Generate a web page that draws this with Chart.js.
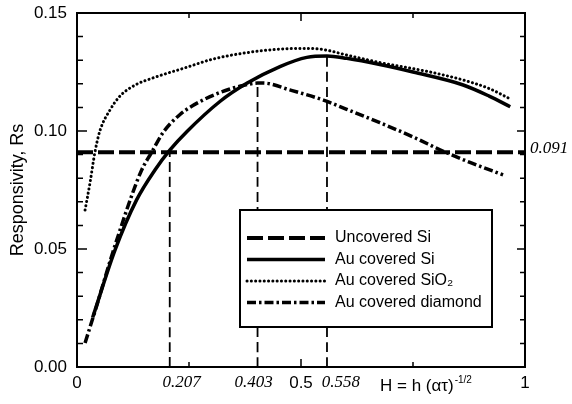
<!DOCTYPE html>
<html>
<head>
<meta charset="utf-8">
<script src="https://cdn.jsdelivr.net/npm/chart.js@4.4.0/dist/chart.umd.min.js"></script>
<style>
  html, body { margin: 0; padding: 0; background: #fff; }
  canvas { display: block; }
</style>
</head>
<body>
<canvas id="chart" width="572" height="404"></canvas>
<script>
// values
const seriesNames = ['Uncovered Si', 'Au covered Si', 'Au covered SiO\u2082', 'Au covered diamond'];

const uncoveredX = [0, 1];
const uncoveredY = [0.091, 0.091];

const auSiX = [0.035, 0.085, 0.133, 0.174, 0.2076, 0.245, 0.319, 0.379, 0.453, 0.513, 0.558, 0.602, 0.676, 0.75, 0.862, 0.92, 0.967];
const auSiY = [0.021, 0.0496, 0.0708, 0.0835, 0.092, 0.0997, 0.1125, 0.1202, 0.1273, 0.1312, 0.1318, 0.1308, 0.1282, 0.125, 0.1195, 0.1148, 0.1103];

const sio2X = [0.018, 0.029, 0.04, 0.051, 0.074, 0.096, 0.13, 0.17, 0.245, 0.304, 0.379, 0.453, 0.513, 0.55, 0.602, 0.676, 0.788, 0.862, 0.92, 0.967];
const sio2Y = [0.0665, 0.078, 0.091, 0.100, 0.109, 0.1148, 0.1195, 0.1225, 0.127, 0.1305, 0.1332, 0.1347, 0.135, 0.1345, 0.1322, 0.129, 0.125, 0.1216, 0.118, 0.1136];

const diamondX = [0.018, 0.044, 0.074, 0.096, 0.12, 0.1444, 0.1667, 0.1926, 0.23, 0.282, 0.3415, 0.371, 0.403, 0.416, 0.475, 0.55, 0.602, 0.676, 0.75, 0.82, 0.88, 0.951];
const diamondY = [0.0102, 0.026, 0.045, 0.058, 0.0715, 0.0835, 0.091, 0.0995, 0.107, 0.1132, 0.1178, 0.1193, 0.1203, 0.1203, 0.1174, 0.1131, 0.1092, 0.1035, 0.0975, 0.0912, 0.0865, 0.0814];

const markerX = [0.207, 0.403, 0.558];
const markerTop = [0.091, 0.1203, 0.1318];
const markerLabels = ['0.207', '0.403', '0.558'];
const levelLabel = '0.091';

const xTicks = [0, 0.5, 1];
const yTicks = [0, 0.05, 0.10, 0.15];

const pts = (xs, ys) => xs.map((v, i) => ({x: v, y: ys[i]}));

const curves = [
  {label: seriesNames[0], data: pts(uncoveredX, uncoveredY), borderWidth: 4, borderDash: [16, 5]},
  {label: seriesNames[1], data: pts(auSiX, auSiY), borderWidth: 3.5, borderDash: []},
  {label: seriesNames[2], data: pts(sio2X, sio2Y), borderWidth: 3, borderDash: [0.1, 4.2], borderCapStyle: 'round'},
  {label: seriesNames[3], data: pts(diamondX, diamondY), borderWidth: 3.5, borderDash: [9, 3, 2.5, 3]}
];

const markers = markerX.map((v, i) => ({
  label: 'marker' + i,
  data: [{x: v, y: 0}, {x: v, y: markerTop[i]}],
  borderWidth: 1.8,
  borderDash: [10, 5]
}));

const datasets = [...curves, ...markers].map(d => Object.assign({
  showLine: true,
  pointRadius: 0,
  borderColor: '#000',
  backgroundColor: '#000',
  cubicInterpolationMode: 'monotone',
  fill: false
}, d));

const SANS = '"Liberation Sans", Arial, sans-serif';

// frame, inward ticks, annotations and legend
const decorations = {
  id: 'decorations',
  afterDatasetsDraw(chart) {
    const {ctx, chartArea: a, scales: {x, y}} = chart;
    ctx.save();
    ctx.strokeStyle = '#000';
    ctx.fillStyle = '#000';
    ctx.setLineDash([]);
    ctx.lineWidth = 2;
    ctx.strokeRect(a.left, a.top, a.right - a.left, a.bottom - a.top);

    ctx.lineWidth = 1.5;
    ctx.beginPath();
    for (let i = 0; i <= 15; i++) {
      const py = y.getPixelForValue(i / 100);
      const major = i % 5 === 0;
      ctx.moveTo(a.left, py); ctx.lineTo(a.left + (major ? 10 : 6), py);
      ctx.moveTo(a.right, py); ctx.lineTo(a.right - (major ? 8 : 5), py);
    }
    [0.25, 0.5, 0.75].forEach(v => {
      const px = x.getPixelForValue(v);
      const len = v === 0.5 ? 8 : 5;
      ctx.moveTo(px, a.bottom); ctx.lineTo(px, a.bottom - len);
      ctx.moveTo(px, a.top); ctx.lineTo(px, a.top + len);
    });
    ctx.stroke();

    // italic annotations
    ctx.font = 'italic 17px "Liberation Serif", serif';
    ctx.textBaseline = 'middle';
    ctx.textAlign = 'center';
    const shift = [12, -4, 14];
    markerX.forEach((v, i) => {
      ctx.fillText(markerLabels[i], x.getPixelForValue(v) + shift[i], a.bottom + 16);
    });
    ctx.textAlign = 'left';
    ctx.fillText(levelLabel, a.right + 5, y.getPixelForValue(uncoveredY[0]) - 4);

    // x axis title with superscript
    ctx.textBaseline = 'alphabetic';
    ctx.font = '17px ' + SANS;
    const main = 'H = h (\u03b1\u03c4)';
    const tx = 380, ty = 391;
    ctx.fillText(main, tx, ty);
    const w = ctx.measureText(main).width;
    ctx.font = '10px ' + SANS;
    ctx.fillText('-1/2', tx + w + 1, ty - 8);

    // legend
    const lx = 240, ly = 210, lw = 252, lh = 117;
    ctx.fillStyle = '#fff';
    ctx.fillRect(lx, ly, lw, lh);
    ctx.lineWidth = 2;
    ctx.strokeRect(lx, ly, lw, lh);
    ctx.font = '16px ' + SANS;
    ctx.textBaseline = 'middle';
    ctx.fillStyle = '#000';
    curves.forEach((c, i) => {
      const ry = ly + 28 + i * 21.5;
      ctx.save();
      ctx.lineWidth = c.borderWidth;
      ctx.setLineDash(c.borderDash || []);
      ctx.lineCap = c.borderCapStyle || 'butt';
      ctx.beginPath();
      ctx.moveTo(lx + 7, ry);
      ctx.lineTo(lx + 85, ry);
      ctx.stroke();
      ctx.restore();
      ctx.fillText(c.label, lx + 95, ry);
    });
    ctx.restore();
  }
};

new Chart(document.getElementById('chart'), {
  type: 'scatter',
  data: {datasets},
  options: {
    responsive: false,
    devicePixelRatio: 1,
    animation: false,
    layout: {padding: {top: 13, right: 47, left: 0, bottom: 0}},
    plugins: {legend: {display: false}, tooltip: {enabled: false}},
    scales: {
      x: {
        type: 'linear',
        min: 0,
        max: 1,
        grid: {display: false, drawTicks: false},
        border: {display: false},
        afterBuildTicks: s => { s.ticks = xTicks.map(v => ({value: v})); },
        afterFit: s => { s.height = 37; s.paddingLeft = s.paddingRight = 0; },
        ticks: {
          autoSkip: false,
          maxRotation: 0,
          padding: 6,
          color: '#000',
          font: {size: 17, family: SANS},
          callback: v => String(v)
        }
      },
      y: {
        min: 0,
        max: 0.15,
        grid: {display: false, drawTicks: false},
        border: {display: false},
        afterBuildTicks: s => { s.ticks = yTicks.map(v => ({value: v})); },
        afterFit: s => { s.width = 77; s.paddingTop = s.paddingBottom = 0; },
        ticks: {
          padding: 10,
          color: '#000',
          font: {size: 17, family: SANS},
          callback: v => v.toFixed(2)
        },
        title: {
          display: true,
          text: 'Responsivity, Rs',
          color: '#000',
          padding: {top: 7, bottom: 0},
          font: {size: 18, family: SANS}
        }
      }
    }
  },
  plugins: [decorations]
});
</script>
</body>
</html>
